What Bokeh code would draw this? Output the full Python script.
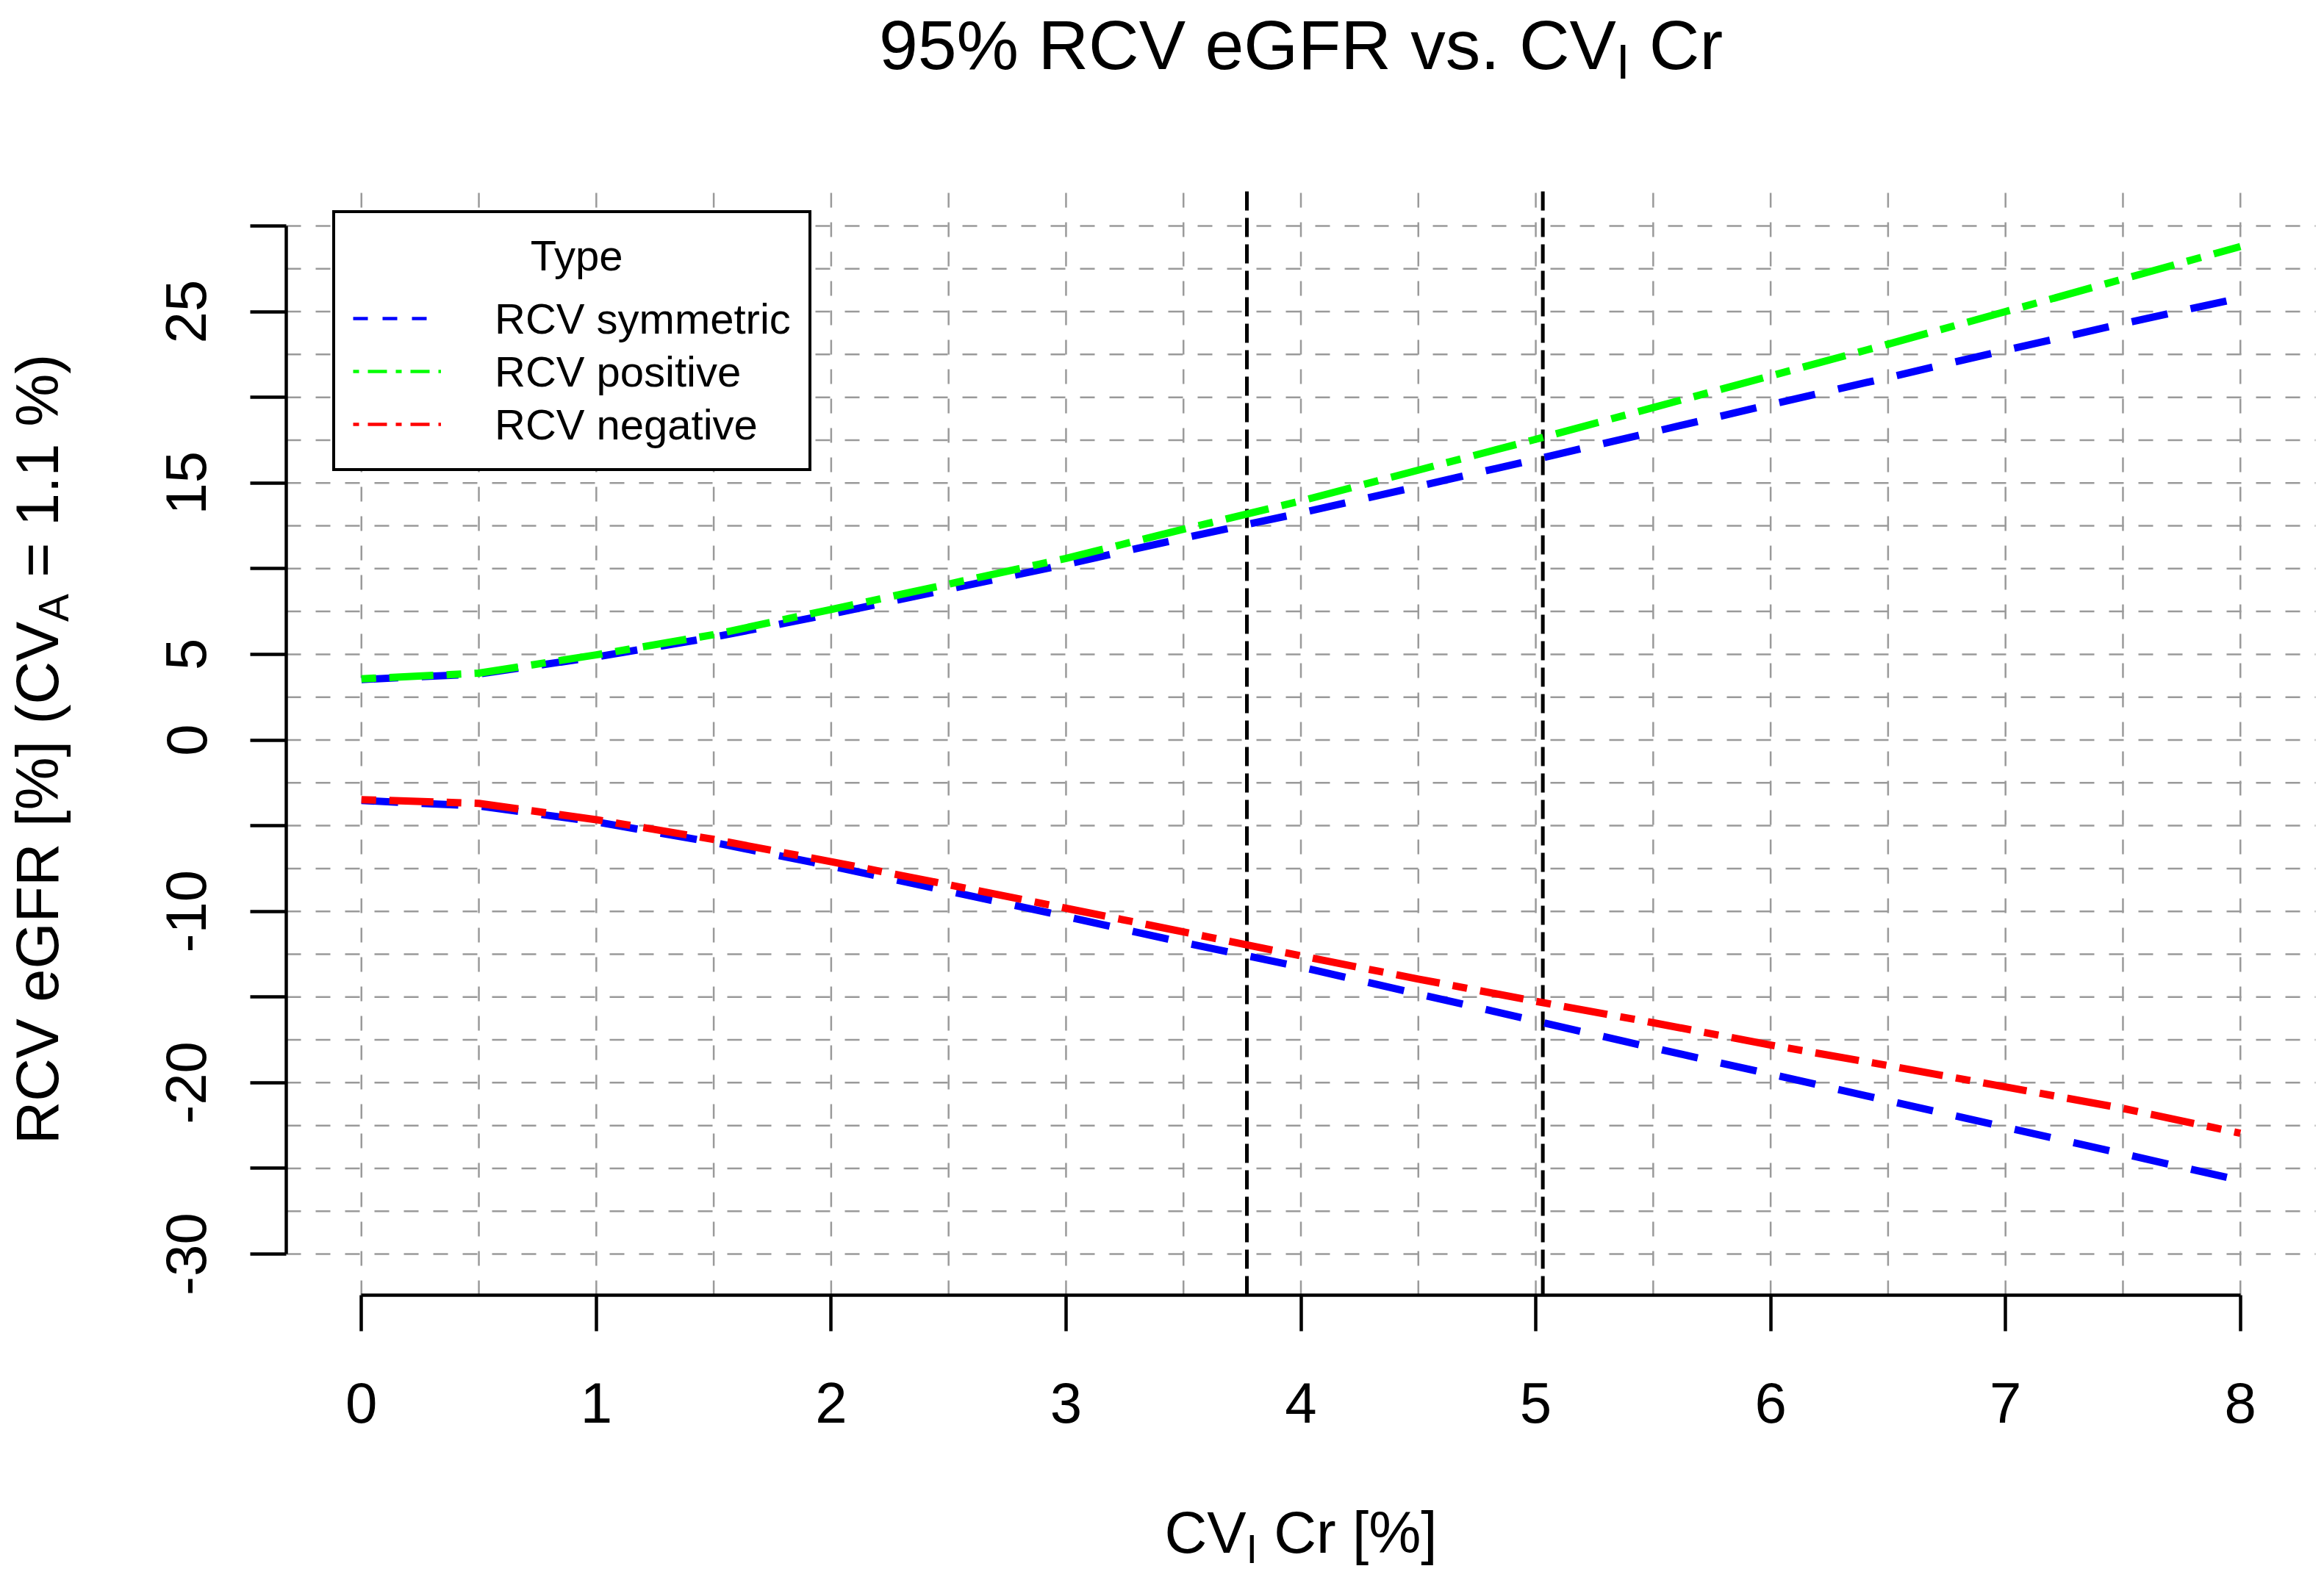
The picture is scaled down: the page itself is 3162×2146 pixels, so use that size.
import math
from bokeh.plotting import figure
from bokeh.models import Range1d, FixedTicker, Legend, LegendItem, Label
from bokeh.embed import file_html
from bokeh.resources import INLINE

# ---------------- data ----------------
cv_i = [0, 0.5, 1, 1.5, 2, 2.5, 3, 3.5, 4, 4.5, 5, 5.5, 6, 6.5, 7, 7.5, 8]
rcv_sym_pos = [3.53, 3.85, 4.85, 6.0, 7.35, 8.8, 10.25, 11.78, 13.25, 14.8,
               16.38, 17.98, 19.58, 21.15, 22.75, 24.3, 25.8]
rcv_sym_neg = [-3.53, -3.85, -4.78, -5.98, -7.36, -8.82, -10.3, -11.82, -13.25, -14.82,
               -16.4, -17.97, -19.5, -21.05, -22.6, -24.15, -25.7]
rcv_positive = [3.57, 3.9, 4.97, 6.15, 7.62, 9.1, 10.6, 12.3, 13.95, 15.75,
                17.55, 19.4, 21.25, 23.1, 25.0, 26.9, 28.8]
rcv_negative = [-3.48, -3.7, -4.65, -5.8, -7.1, -8.45, -9.82, -11.2, -12.6, -13.95,
                -15.25, -16.5, -17.8, -19.0, -20.25, -21.5, -22.95]
ref_lines = [3.77, 5.03]

x_tick_values = [0, 1, 2, 3, 4, 5, 6, 7, 8]
y_tick_values = [-30, -25, -20, -15, -10, -5, 0, 5, 10, 15, 20, 25, 30]
y_tick_text = ["-30", "", "-20", "", "-10", "", "0", "5", "", "15", "", "25", ""]
x_grid_values = [0, 0.5, 1, 1.5, 2, 2.5, 3, 3.5, 4, 4.5, 5, 5.5, 6, 6.5, 7, 7.5, 8]
y_grid_values = [-30, -27.5, -25, -22.5, -20, -17.5, -15, -12.5, -10, -7.5, -5, -2.5, 0,
                 2.5, 5, 7.5, 10, 12.5, 15, 17.5, 20, 22.5, 25, 27.5, 30]

legend_title = "Type"
legend_labels = ["RCV symmetric", "RCV positive", "RCV negative"]
title_parts = ["95% RCV eGFR vs. CV", "I", " Cr"]
xlabel_parts = ["CV", "I", " Cr [%]"]
ylabel_parts = ["RCV eGFR [%] (CV", "A", " = 1.1 %)"]

# ---------------- layout ----------------
FONT = "Liberation Sans"
W, H = 3154, 2138
# plot region (R "usr" box) in canvas pixels and in data units
PL, PR, PT, PB = 389, 3150, 251, 1762
XLO, XHI, YLO, YHI = -0.32, 8.32, -32.4, 32.4
SX = (PR - PL) / (XHI - XLO)
SY = (PB - PT) / (YHI - YLO)
X0 = XLO - PL / SX
X1 = XHI + (W - PR) / SX
Y1 = YHI + PT / SY
Y0 = YLO - (H - PB) / SY


def dx(px):
    return X0 + px / SX


def dy(py):
    return Y1 - py / SY


ARIAL = {' ': 278, '%': 889, '(': 333, ')': 333, '.': 278, '=': 584, '[': 278, ']': 278,
         '1': 556, '5': 556, '9': 556, 'A': 667, 'C': 722, 'F': 611, 'G': 778, 'I': 278,
         'R': 722, 'V': 667, 'e': 556, 'r': 333, 's': 500, 'v': 500}


def tw(s, size):
    return sum(ARIAL.get(c, 556) for c in s) / 1000.0 * size


p = figure(width=W, height=H, x_range=Range1d(X0, X1), y_range=Range1d(Y0, Y1),
           output_backend="svg", toolbar_location=None, title=None,
           min_border_left=0, min_border_right=0, min_border_top=0, min_border_bottom=0)
p.outline_line_color = None
p.background_fill_color = "white"
p.border_fill_color = "white"
p.xgrid.grid_line_color = None
p.ygrid.grid_line_color = None

# axes (detached, R style) placed at the plot-region edges
for ax in (p.xaxis[0], p.yaxis[0]):
    ax.axis_line_width = 4.5
    ax.axis_line_color = "black"
    ax.major_tick_line_width = 4.5
    ax.major_tick_line_color = "black"
    ax.major_tick_out = 49
    ax.major_tick_in = 0
    ax.minor_tick_line_color = None
    ax.major_label_text_font = FONT
    ax.major_label_text_font_size = "78px"
    ax.major_label_text_color = "black"

p.xaxis[0].fixed_location = YLO
p.xaxis[0].ticker = FixedTicker(ticks=x_tick_values)
p.xaxis[0].bounds = (x_tick_values[0], x_tick_values[-1])
p.xaxis[0].major_label_standoff = 70

p.yaxis[0].fixed_location = XLO
p.yaxis[0].ticker = FixedTicker(ticks=y_tick_values)
p.yaxis[0].bounds = (y_tick_values[0], y_tick_values[-1])
p.yaxis[0].major_label_overrides = {v: t for v, t in zip(y_tick_values, y_tick_text)}
p.yaxis[0].major_label_orientation = "parallel"
p.yaxis[0].major_label_standoff = 60

# dashed grey grid inside the plot region
p.segment(x0=x_grid_values, x1=x_grid_values, y0=[YLO] * len(x_grid_values),
          y1=[YHI] * len(x_grid_values), line_color="#9a9a9a", line_width=2.5,
          line_dash="20 20")
p.segment(x0=[XLO] * len(y_grid_values), x1=[XHI] * len(y_grid_values), y0=y_grid_values,
          y1=y_grid_values, line_color="#9a9a9a", line_width=2.5, line_dash="20 20")

# reference vertical lines
p.segment(x0=ref_lines, x1=ref_lines, y0=[YLO] * len(ref_lines), y1=[YHI] * len(ref_lines),
          line_color="black", line_width=5, line_dash="26 10")

# curves
dash_sym = "50 32"
dash_dd = "20 18 60 18"
p.line(cv_i, rcv_sym_pos, line_color="#0000FF", line_width=10, line_dash=dash_sym,
       line_join="round")
p.line(cv_i, rcv_sym_neg, line_color="#0000FF", line_width=10, line_dash=dash_sym,
       line_join="round")
p.line(cv_i, rcv_positive, line_color="#00FF00", line_width=10, line_dash=dash_dd,
       line_join="round")
p.line(cv_i, rcv_negative, line_color="#FF0000", line_width=10, line_dash=dash_dd,
       line_join="round")

# legend (thinner sample lines, like the reference)
nan = float("nan")
lg_sym = p.line([nan], [nan], line_color="#0000FF", line_width=4.5, line_dash="20 20")
lg_pos = p.line([nan], [nan], line_color="#00FF00", line_width=4.5, line_dash="8 12 26 12")
lg_neg = p.line([nan], [nan], line_color="#FF0000", line_width=4.5, line_dash="8 12 26 12")
legend = Legend(
    items=[LegendItem(label=legend_labels[0], renderers=[lg_sym]),
           LegendItem(label=legend_labels[1], renderers=[lg_pos]),
           LegendItem(label=legend_labels[2], renderers=[lg_neg])],
    title="\u00a0" * 15 + legend_title, location=(PL + 63, H - PB + 1121), margin=0,
    padding=24, title_text_font=FONT, title_text_font_size="58px",
    title_text_font_style="normal", title_text_color="black", title_standoff=16,
    label_text_font=FONT, label_text_font_size="58px", label_text_color="black",
    label_height=72, glyph_height=72, glyph_width=120, label_standoff=73, spacing=0,
    border_line_color="black", border_line_width=4.5, border_line_alpha=1.0,
    background_fill_color="white", background_fill_alpha=1.0,
)
p.add_layout(legend)


def add_parts(parts, size, px0, py0, sub_drop, fix, rotated=False):
    sub_size = 0.7 * size
    specs = [(parts[0], size, 0.0), (parts[1], sub_size, sub_drop), (parts[2], size, 0.0)]
    pos = 0.0
    for txt, sz, drop in specs:
        lead = len(txt) - len(txt.lstrip(" "))
        pos += tw(" " * lead, sz)
        txt = txt.lstrip(" ")
        off = drop - fix * sz   # Bokeh's alphabetic anchor sits a bit below the glyph baseline
        if rotated:
            lx, ly, ang = px0 + off, py0 - pos, math.pi / 2
        else:
            lx, ly, ang = px0 + pos, py0 + off, 0
        p.add_layout(Label(x=dx(lx), y=dy(ly), text=txt, angle=ang, level="overlay",
                           text_font=FONT, text_font_size=f"{sz:.1f}px",
                           text_align="left", text_baseline="alphabetic",
                           text_color="black"))
        pos += tw(txt, sz)


def total(parts, size):
    return tw(parts[0], size) + tw(parts[1], 0.7 * size) + tw(parts[2], size)


CX = (PL + PR) / 2
# title
TS = 95
add_parts(title_parts, TS, CX - total(title_parts, TS) / 2, 79, 0.19 * TS, 0.2)
# x label
XS = 80
add_parts(xlabel_parts, XS, CX - total(xlabel_parts, XS) / 2, 2109, 0.19 * XS, 0.3)
# y label (rotated, reading bottom to top)
YS = 81
add_parts(ylabel_parts, YS, 75, 1019 + total(ylabel_parts, YS) / 2, 0.19 * YS, 0.3,
          rotated=True)

open("out.html", "w").write(file_html(p, INLINE))
